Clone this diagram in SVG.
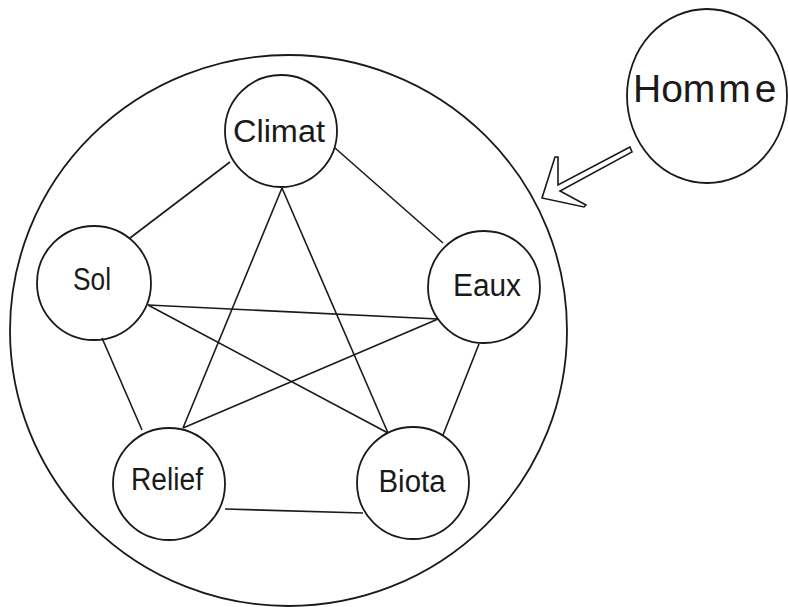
<svg xmlns="http://www.w3.org/2000/svg" width="788" height="607" viewBox="0 0 788 607">
<style>
.c{fill:none;stroke:#1a1a1a;stroke-width:1.8}
.e{stroke:#1a1a1a;stroke-width:1.6;fill:none}
.t{font-family:"Liberation Sans",Arial,sans-serif;font-size:31px;fill:#1a1a1a;text-anchor:middle}
</style>
<rect width="788" height="607" fill="#fff"/>
<g id="systeme"><ellipse class="c" cx="288.5" cy="330.5" rx="278.5" ry="275.5"/></g>
<g id="connectors">
<line class="e" x1="230" y1="162" x2="130" y2="238"/>
<line class="e" x1="335" y1="148" x2="443" y2="243"/>
<line class="e" x1="282" y1="188" x2="183" y2="428"/>
<line class="e" x1="282" y1="188" x2="388" y2="433"/>
<line class="e" x1="148" y1="305" x2="438" y2="319"/>
<line class="e" x1="148" y1="305" x2="388" y2="433"/>
<line class="e" x1="102" y1="338" x2="142" y2="430"/>
<line class="e" x1="438" y1="319" x2="183" y2="428"/>
<line class="e" x1="479" y1="344" x2="443" y2="435"/>
<line class="e" x1="225" y1="509" x2="363" y2="513"/>
<polygon class="e" points="630,147 558,185 558,157 555,157 542,198 584,207 586,205 560,191 632,152"/>
</g>
<g id="climat"><circle class="c" cx="281" cy="131" r="56"/><text class="t" x="279" y="142" textLength="92" lengthAdjust="spacingAndGlyphs">Climat</text></g>
<g id="sol"><circle class="c" cx="94" cy="283" r="57"/><text class="t" x="92" y="290" textLength="38" lengthAdjust="spacingAndGlyphs">Sol</text></g>
<g id="eaux"><circle class="c" cx="484" cy="287" r="56"/><text class="t" x="487" y="296" textLength="68" lengthAdjust="spacingAndGlyphs">Eaux</text></g>
<g id="relief"><circle class="c" cx="169" cy="484" r="56"/><text class="t" x="167" y="490" textLength="72" lengthAdjust="spacingAndGlyphs">Relief</text></g>
<g id="biota"><circle class="c" cx="413" cy="483" r="56"/><text class="t" x="412" y="492" textLength="67" lengthAdjust="spacingAndGlyphs">Biota</text></g>
<g id="homme"><ellipse class="c" cx="707" cy="96" rx="80" ry="87"/><text x="633" y="102" style="font-family:'Liberation Sans',Arial,sans-serif;font-size:39px;fill:#1a1a1a">Hom<tspan dx="3">m</tspan><tspan dx="4">e</tspan></text></g>
</svg>
